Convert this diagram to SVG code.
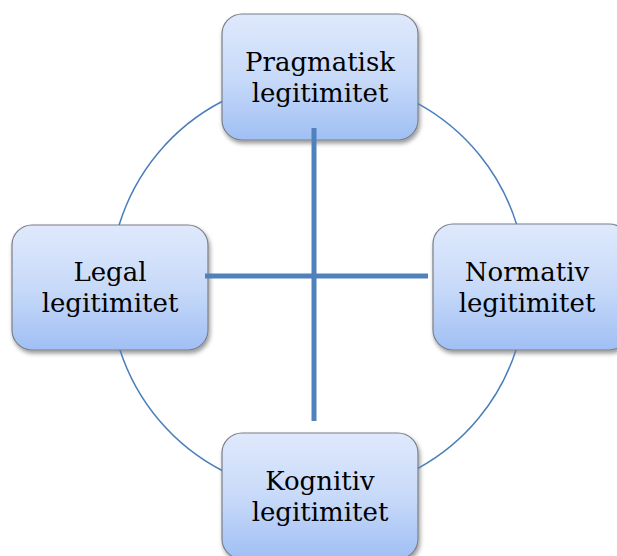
<svg xmlns="http://www.w3.org/2000/svg" width="617" height="556" viewBox="0 0 617 556">
  <style>
    .box { fill: url(#boxFill); stroke: #7a7f88; stroke-width: 1.2; filter: url(#shadow); }
    .label { font-family: "DejaVu Serif", "Liberation Serif", serif; font-size: 26px; fill: #000; text-anchor: middle; }
    .ring { fill: none; stroke: #4a7ebb; stroke-width: 1.5; }
    .axis { stroke: #4f81bd; stroke-width: 5; }
  </style>
  <defs>
    <linearGradient id="boxFill" x1="0" y1="0" x2="0" y2="1">
      <stop offset="0" stop-color="#dfe9fc"/>
      <stop offset="0.5" stop-color="#c8daf9"/>
      <stop offset="1" stop-color="#a0bff4"/>
    </linearGradient>
    <filter id="shadow" x="-10%" y="-10%" width="125%" height="130%">
      <feDropShadow dx="1.5" dy="3" stdDeviation="2" flood-color="#000" flood-opacity="0.4"/>
    </filter>
  </defs>

  <rect width="617" height="556" fill="#fff"/>

  <g id="pragmatisk">
    <rect class="box" x="222" y="14" width="196" height="126" rx="20"/>
    <text class="label" x="320" y="71">Pragmatisk</text>
    <text class="label" x="320" y="102">legitimitet</text>
  </g>

  <g id="legal">
    <rect class="box" x="12" y="225" width="196" height="125" rx="20"/>
    <text class="label" x="110" y="281">Legal</text>
    <text class="label" x="110" y="312">legitimitet</text>
  </g>

  <g id="normativ">
    <rect class="box" x="433" y="224" width="196" height="126" rx="20"/>
    <text class="label" x="527" y="281">Normativ</text>
    <text class="label" x="527" y="312">legitimitet</text>
  </g>

  <g id="kognitiv">
    <rect class="box" x="222" y="433" width="196" height="126" rx="20"/>
    <text class="label" x="320" y="490">Kognitiv</text>
    <text class="label" x="320" y="521">legitimitet</text>
  </g>

  <!-- ring arcs between the boxes, plus the cross drawn on top -->
  <g id="connectors">
    <path class="ring" d="M222,101.5 A208,208 0 0 0 119.1,225"/>
    <path class="ring" d="M418,103.6 A208,208 0 0 1 516.5,224"/>
    <path class="ring" d="M516,350 A208,208 0 0 1 418,468.4"/>
    <path class="ring" d="M222,470.5 A208,208 0 0 1 120,350"/>
    <line class="axis" x1="314" y1="128" x2="314" y2="421"/>
    <line class="axis" x1="205" y1="276" x2="428" y2="276"/>
  </g>
</svg>
